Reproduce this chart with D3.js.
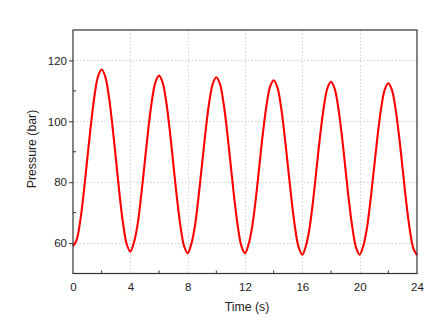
<!DOCTYPE html>
<html>
<head>
<meta charset="utf-8">
<script src="https://cdn.jsdelivr.net/npm/d3@7"></script>
<style>
  html, body { margin: 0; padding: 0; background: #fff; }
  svg { display: block; }
  text { font-family: "Liberation Sans", Arial, sans-serif; fill: #222; }
</style>
</head>
<body>
<svg id="chart" width="445" height="326"></svg>
<script>
// ---- data ----
const timeS = [
  0, 0.25, 0.5, 0.75, 1, 1.25, 1.5, 1.75, 2, 2.25, 2.5, 2.75, 3, 3.25, 3.5, 3.75,
  4, 4.25, 4.5, 4.75, 5, 5.25, 5.5, 5.75, 6, 6.25, 6.5, 6.75, 7, 7.25, 7.5, 7.75,
  8, 8.25, 8.5, 8.75, 9, 9.25, 9.5, 9.75, 10, 10.25, 10.5, 10.75, 11, 11.25, 11.5, 11.75,
  12, 12.25, 12.5, 12.75, 13, 13.25, 13.5, 13.75, 14, 14.25, 14.5, 14.75, 15, 15.25, 15.5, 15.75,
  16, 16.25, 16.5, 16.75, 17, 17.25, 17.5, 17.75, 18, 18.25, 18.5, 18.75, 19, 19.25, 19.5, 19.75,
  20, 20.25, 20.5, 20.75, 21, 21.25, 21.5, 21.75, 22, 22.25, 22.5, 22.75, 23, 23.25, 23.5, 23.75, 24
];
const pressureBar = [
  59.0, 61.0, 67.1, 76.6, 87.8, 98.9, 108.4, 114.8, 117.0, 114.7, 108.3, 98.6, 87.3, 75.9, 66.2, 59.6,
  57.2, 60.2, 65.9, 75.3, 86.3, 97.3, 106.6, 112.8, 115.0, 112.8, 106.5, 97.1, 86.0, 74.9, 65.5, 59.0,
  56.7, 59.6, 65.4, 74.8, 85.8, 96.8, 106.1, 112.3, 114.5, 112.3, 106.1, 96.8, 85.8, 74.8, 65.4, 59.0,
  56.7, 59.6, 65.3, 74.4, 85.3, 96.1, 105.2, 111.4, 113.5, 111.3, 105.2, 95.9, 85.0, 74.1, 64.8, 58.5,
  56.2, 59.1, 64.8, 73.9, 84.8, 95.6, 104.7, 110.9, 113.0, 110.8, 104.7, 95.6, 84.8, 73.9, 64.8, 58.5,
  56.2, 59.0, 64.7, 73.8, 84.5, 95.2, 104.3, 110.4, 112.5, 110.3, 104.2, 95.1, 84.3, 73.4, 64.3, 58.2,
  56.0
];
const xTicks = [0, 4, 8, 12, 16, 20, 24];
const xMinorTicks = [2, 6, 10, 14, 18, 22];
const yTicks = [60, 80, 100, 120];
const yMinorTicks = [70, 90, 110];
const xLabel = "Time (s)";
const yLabel = "Pressure (bar)";

// ---- layout ----
const svg = d3.select("#chart");
const L = 73, R = 417, T = 30, B = 273.5;

const x = d3.scaleLinear().domain([0, 24]).range([L, R]);
const y = d3.scaleLinear().domain([50, 130]).range([B, T]);

// grid
const grid = svg.append("g").attr("stroke", "#cfcfcf").attr("stroke-width", 1)
  .attr("stroke-dasharray", "1.5,2");
grid.selectAll("line.gx").data(xTicks.slice(1, -1)).enter().append("line")
  .attr("x1", d => Math.round(x(d)) + 0.5).attr("x2", d => Math.round(x(d)) + 0.5)
  .attr("y1", T).attr("y2", B);
grid.selectAll("line.gy").data(yTicks).enter().append("line")
  .attr("y1", d => Math.round(y(d)) + 0.5).attr("y2", d => Math.round(y(d)) + 0.5)
  .attr("x1", L).attr("x2", R);

// data line
const line = d3.line()
  .x((d, i) => x(timeS[i]))
  .y(d => y(d))
  .curve(d3.curveCatmullRom.alpha(0.5));
svg.append("path")
  .datum(pressureBar)
  .attr("d", line)
  .attr("fill", "none")
  .attr("stroke", "#ff0000")
  .attr("stroke-width", 2.1)
  .attr("stroke-linejoin", "round");

// axes
const xAxis = svg.append("g").attr("transform", `translate(0,${B})`)
  .call(d3.axisBottom(x).tickValues(xTicks).tickSize(0).tickPadding(9).tickFormat(d3.format("d")));
xAxis.select(".domain").remove();
xAxis.selectAll("text").style("font-size", "11.5px").attr("fill", "#222");

const yAxis = svg.append("g").attr("transform", `translate(${L},0)`)
  .call(d3.axisLeft(y).tickValues(yTicks).tickSize(4).tickPadding(2).tickFormat(d3.format("d")));
yAxis.select(".domain").remove();
yAxis.selectAll("line").attr("stroke", "#333");
yAxis.selectAll("text").style("font-size", "11.5px").attr("fill", "#222");

// minor ticks (inward)
svg.append("g").selectAll("line").data(xMinorTicks).enter().append("line")
  .attr("x1", d => x(d)).attr("x2", d => x(d))
  .attr("y1", B).attr("y2", B - 3)
  .attr("stroke", "#333");
svg.append("g").selectAll("line").data(yMinorTicks).enter().append("line")
  .attr("y1", d => y(d)).attr("y2", d => y(d))
  .attr("x1", L).attr("x2", L + 3)
  .attr("stroke", "#333");

// frame
svg.append("rect")
  .attr("x", L).attr("y", T).attr("width", R - L).attr("height", B - T)
  .attr("fill", "none").attr("stroke", "#333").attr("stroke-width", 1.2);

// axis titles
svg.append("text").attr("x", 247).attr("y", 311)
  .attr("text-anchor", "middle").style("font-size", "12.3px").text(xLabel);
svg.append("text").attr("transform", "translate(36,149) rotate(-90)")
  .attr("text-anchor", "middle").style("font-size", "12.3px").text(yLabel);
</script>
</body>
</html>
